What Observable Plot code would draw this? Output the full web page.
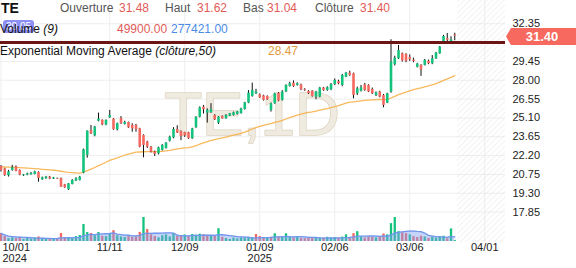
<!DOCTYPE html>
<html><head><meta charset="utf-8">
<script src="https://cdn.jsdelivr.net/npm/d3@7"></script>
<script src="https://cdn.jsdelivr.net/npm/@observablehq/plot@0.6"></script>
<style>
body{margin:0;background:#fff;font-family:"Liberation Sans",Arial,sans-serif;}
#wrap{position:relative;width:576px;height:268px;overflow:hidden;background:#fff;}
#wrap svg{position:absolute;left:0;top:0;}
.h{position:absolute;white-space:nowrap;font-size:12px;line-height:12px;}
</style></head><body><div id="wrap"></div>
<script>
const symbol = "TE", interval = "1D";
const opens = [21.36,21.18,20.65,21.06,21.31,21.06,20.65,20.70,20.72,20.75,
20.90,20.34,20.42,20.54,20.39,20.44,20.44,19.95,19.57,19.98,
20.24,20.29,20.85,22.21,24.13,23.72,24.85,24.91,24.55,25.11,
25.01,24.19,25.06,24.60,24.75,24.52,24.52,24.26,23.75,23.24,
22.85,22.47,22.34,22.60,22.75,23.32,23.57,24.21,24.06,23.98,
23.96,23.50,24.34,25.16,25.93,25.47,25.50,25.29,24.70,25.21,
25.03,25.24,25.29,25.37,25.42,25.75,26.24,26.75,26.96,26.88,
26.80,26.75,25.68,26.19,27.00,26.45,27.10,27.52,27.78,27.60,
27.63,27.27,27.14,27.16,26.70,26.70,27.40,27.22,27.27,27.68,
27.90,27.60,28.24,28.55,28.50,26.96,27.16,27.65,27.60,27.29,
26.83,27.09,26.83,26.24,27.09,29.20,29.65,30.04,29.98,29.75,
29.55,29.00,29.15,29.14,29.47,29.27,29.65,30.04,30.91,31.20,
30.95,31.48];
const highs = [21.43,21.22,21.06,21.45,21.40,21.10,20.75,20.85,20.90,21.00,
20.95,20.55,20.60,20.60,20.52,20.47,20.47,19.98,20.05,20.35,
20.50,20.60,22.70,24.10,24.52,24.45,25.47,24.95,24.95,25.68,
25.05,24.70,25.20,24.85,24.78,24.65,24.60,24.30,23.80,23.30,
22.90,22.55,22.85,23.05,23.20,23.70,24.35,24.50,24.10,24.00,
24.00,24.30,25.20,25.95,26.06,25.80,26.20,25.35,25.20,25.25,
25.35,25.45,25.55,25.60,25.85,26.30,27.20,27.78,27.30,26.95,
26.85,26.80,26.25,27.00,27.05,27.20,27.65,27.85,27.95,27.80,
27.70,27.35,27.20,27.20,27.15,27.45,27.45,27.50,27.75,28.10,
28.00,28.45,28.60,28.70,28.55,27.47,27.60,27.75,27.65,27.40,
27.10,27.15,26.90,27.00,31.12,29.85,30.68,30.10,30.05,29.95,
29.70,29.30,29.20,29.60,29.55,29.90,30.15,30.60,31.45,31.60,
31.35,31.62];
const lows = [20.93,20.60,20.55,21.00,20.95,20.65,20.60,20.65,20.70,20.72,
20.16,20.30,20.38,20.35,20.36,20.37,19.75,19.68,19.52,19.95,
20.20,20.25,20.80,22.00,23.82,23.65,24.80,24.50,24.50,25.06,
24.15,24.10,24.60,24.55,24.30,24.00,24.00,22.80,22.03,22.75,
22.40,22.13,22.25,22.55,22.70,23.25,23.50,23.90,23.35,23.60,
23.45,23.45,24.30,25.10,25.40,24.70,25.45,24.90,24.60,25.00,
25.00,25.20,25.25,25.33,25.40,25.70,26.20,26.70,26.90,26.60,
26.40,26.45,25.55,26.15,26.35,26.40,27.05,27.48,27.45,27.55,
27.20,27.15,26.90,26.70,26.50,26.65,27.15,27.15,27.20,27.60,
27.65,27.50,28.20,28.30,26.57,26.83,27.10,27.15,27.05,26.90,
26.75,26.65,25.88,26.20,27.00,29.10,29.60,29.40,29.35,29.45,
29.35,28.95,28.30,29.10,29.20,29.20,29.60,30.00,30.85,30.90,
30.90,31.04];
const closes = [21.06,20.67,20.95,21.26,20.98,20.70,20.72,20.80,20.82,20.95,
20.44,20.49,20.54,20.39,20.49,20.40,19.77,19.72,20.03,20.29,
20.41,20.54,22.65,24.08,23.88,24.39,25.01,24.57,24.91,25.29,
24.19,24.65,24.65,24.75,24.34,24.26,24.20,22.85,22.98,22.85,
22.47,22.30,22.80,22.98,23.16,23.62,24.21,23.93,23.67,23.73,
23.50,24.24,25.16,25.88,25.73,25.68,25.73,24.96,25.16,25.03,
25.29,25.42,25.50,25.57,25.80,26.26,27.01,27.22,27.09,26.65,
26.45,26.50,26.19,26.96,26.40,27.09,27.60,27.73,27.52,27.73,
27.27,27.20,26.96,26.75,27.09,27.40,27.20,27.42,27.68,27.98,
27.73,28.37,28.55,28.37,26.83,27.34,27.42,27.22,27.09,26.96,
27.04,26.70,26.06,26.96,29.40,29.70,30.29,29.50,29.45,29.60,
29.45,29.25,28.80,29.53,29.27,29.65,30.09,30.55,31.37,31.08,
31.10,31.40];
const volumesK = [460,290,160,210,170,230,120,180,140,200,
260,150,170,130,160,150,460,210,230,200,
280,340,970,510,460,330,510,300,280,400,
620,330,260,230,280,230,270,520,1370,680,
380,290,210,330,380,260,450,300,340,370,
280,400,360,420,380,350,300,290,730,240,
170,120,190,150,200,180,230,220,400,280,
180,170,240,440,230,260,440,250,210,230,
180,160,200,220,170,200,190,240,200,220,
190,250,380,230,450,560,250,200,280,230,
210,250,430,380,1020,1370,560,500,450,380,
280,230,300,260,180,230,200,280,300,150,
720,50];
const tickIndex = [0,29,49,69,89,109,129];
const tickLabels = ["10/01","11/11","12/09","01/09","02/06","03/06","04/01"];
const tickYears = ["2024","","","2025","","",""];
const priceTicks = [17.85,19.30,20.75,22.20,23.65,25.10,26.55,28.00,29.45,30.90,32.35];
const hiddenTick = 30.90;
const levelLine = 30.90;
const emaPeriod = 50, emaSeed = 21.36, volPeriod = 9;
const hdr = {open:"31.48", high:"31.62", low:"31.04", close:"31.40", volume:"49900.00", volumeMA:"277421.00", ema:"28.47", badge:"30.05"};

const green = "#13c27c", red = "#f4695f";
const W = 576, H = 268;
const xDomain = [-0.13, 134.53];
const yDomain = [15.51, 34.14];
const n = closes.length;

const alpha = 2 / (emaPeriod + 1);
let e = emaSeed;
const candles = closes.map((c, i) => {
  e = e + alpha * (c - e);
  return {i, open: opens[i], high: highs[i], low: lows[i], close: c, ema: e,
    up: c >= opens[i], vol: volumesK[i] * 1000,
    volUp: i === 0 ? c >= opens[i] : c >= closes[i - 1]};
});
const xt = tickIndex.map((t, k) => ({t, label: tickLabels[k], year: tickYears[k]}));
const yearsT = xt.filter(d => d.year);

const price = Plot.plot({
  width: W, height: H, marginLeft: 0, marginRight: 71, marginTop: 0, marginBottom: 26,
  style: {background: "white", fontFamily: "Liberation Sans, Arial, sans-serif", overflow: "visible"},
  x: {domain: xDomain, axis: null},
  y: {domain: yDomain, axis: null},
  color: {type: "identity"},
  marks: [
    Plot.ruleY(priceTicks, {stroke: "#eeeeee"}),
    Plot.ruleX(tickIndex, {stroke: "#eeeeee"}),
    Plot.rect([0], {x1: n - 0.3, x2: xDomain[1], y1: yDomain[0], y2: yDomain[1], fill: "url(#hatch)"}),
    Plot.text([symbol + "," + interval], {frameAnchor: "middle", dx: -1, dy: -6, fontSize: 62,
      fill: "#f0ebe0", stroke: "#dbd2be", strokeWidth: 1.5, fontFamily: "Liberation Sans, Arial, sans-serif"}),
    Plot.lineY(candles, {x: "i", y: "ema", stroke: "#f7b04a", strokeWidth: 1.3, strokeOpacity: 0.9}),
    Plot.ruleX(candles, {x: "i", y1: "low", y2: "high", stroke: "#111", strokeWidth: 1}),
    Plot.ruleX(candles, {x: "i", y1: "open", y2: "close", stroke: d => d.up ? green : red, strokeWidth: 2.6}),
    Plot.ruleY([levelLine], {stroke: "#6d1515", strokeWidth: 3}),
    Plot.text(priceTicks.filter(d => d !== hiddenTick), {y: d => d, text: d => d.toFixed(2), frameAnchor: "right",
      dx: 7, textAnchor: "start", fontSize: 11, fill: "#222"}),
    Plot.text(xt.slice(0, 1), {x: "t", text: "label", frameAnchor: "bottom", dx: 1.5, dy: 8, textAnchor: "start", fontSize: 11, fill: "#222"}),
    Plot.text(xt.slice(1), {x: "t", text: "label", frameAnchor: "bottom", dy: 8, fontSize: 11, fill: "#222"}),
    Plot.text(yearsT.slice(0, 1), {x: "t", text: "year", frameAnchor: "bottom", dx: 1.5, dy: 19,
      textAnchor: "start", fontSize: 11, fill: "#222"}),
    Plot.text(yearsT.slice(1), {x: "t", text: "year", frameAnchor: "bottom", dy: 19, fontSize: 11, fill: "#222"})
  ]
});
const defs = d3.select(price).insert("defs", ":first-child");
const pat = defs.append("pattern").attr("id", "hatch").attr("patternUnits", "userSpaceOnUse")
  .attr("width", 4).attr("height", 4).attr("patternTransform", "rotate(45)");
pat.append("line").attr("x1", 0).attr("y1", 0).attr("x2", 0).attr("y2", 4)
  .attr("stroke", "#e6e6e6").attr("stroke-width", 1);

const vol = Plot.plot({
  width: W, height: H, marginLeft: 0, marginRight: 71, marginTop: 0, marginBottom: 27,
  style: {background: "transparent"},
  x: {domain: xDomain, axis: null},
  y: {domain: [0, 13.75e6], axis: null},
  color: {type: "identity"},
  marks: [
    Plot.ruleX(candles, {x: "i", y1: 0, y2: "vol", stroke: d => d.volUp ? green : red, strokeWidth: 2.3}),
    Plot.areaY(candles, Plot.windowY({k: volPeriod, anchor: "end"}, {x: "i", y: "vol", fill: "#7f9ff0", fillOpacity: 0.45})),
    Plot.lineY(candles, Plot.windowY({k: volPeriod, anchor: "end"}, {x: "i", y: "vol", stroke: "#7196ec", strokeWidth: 1.3}))
  ]
});

const wrap = document.getElementById("wrap");
wrap.appendChild(price);
wrap.appendChild(vol);

const ys = price.scale("y");
const yAt = v => ys.apply ? ys.apply(v) : d3.scaleLinear(ys.domain, ys.range)(v);
const yc = yAt(+hdr.close);

const html = `
<div class="h" style="left:1px;top:1px;font-weight:bold;font-size:14px;line-height:14px;color:#111">${symbol}</div>
<div class="h" style="left:60px;top:1.5px;color:#555">Ouverture</div>
<div class="h" style="left:119px;top:1.5px;color:#df5b58">${hdr.open}</div>
<div class="h" style="left:165px;top:1.5px;color:#555">Haut</div>
<div class="h" style="left:197px;top:1.5px;color:#df5b58">${hdr.high}</div>
<div class="h" style="left:243px;top:1.5px;color:#555">Bas</div>
<div class="h" style="left:267px;top:1.5px;color:#df5b58">${hdr.low}</div>
<div class="h" style="left:315px;top:1.5px;color:#555">Clôture</div>
<div class="h" style="left:360px;top:1.5px;color:#df5b58">${hdr.close}</div>
<div class="h" style="left:3px;top:20px;width:31px;height:13px;background:#8d8ff5;border-radius:3px;color:#fff;font-size:10px;line-height:13px;text-align:center">${hdr.badge}</div>
<div class="h" style="left:0px;top:23px;color:#111">Volume <i>(${volPeriod})</i></div>
<div class="h" style="left:117px;top:23px;color:#df5b58">${hdr.volume}</div>
<div class="h" style="left:171px;top:23px;color:#4b8be6">${hdr.volumeMA}</div>
<div class="h" style="left:0px;top:45px;color:#111">Exponential Moving Average <i>(clôture,${emaPeriod})</i></div>
<div class="h" style="left:268px;top:45px;color:#e3993c">${hdr.ema}</div>
<div class="h" style="left:506px;top:${(yc - 7.5).toFixed(1)}px;width:70px;height:17px;background:#f7695f;color:#fff;font-weight:bold;font-size:13px;line-height:17px;text-align:center;clip-path:polygon(0 50%,5px 0,100% 0,100% 100%,5px 100%);padding-left:2px;box-sizing:border-box">${hdr.close}</div>
`;
wrap.insertAdjacentHTML("beforeend", html);
</script>
</body></html>
